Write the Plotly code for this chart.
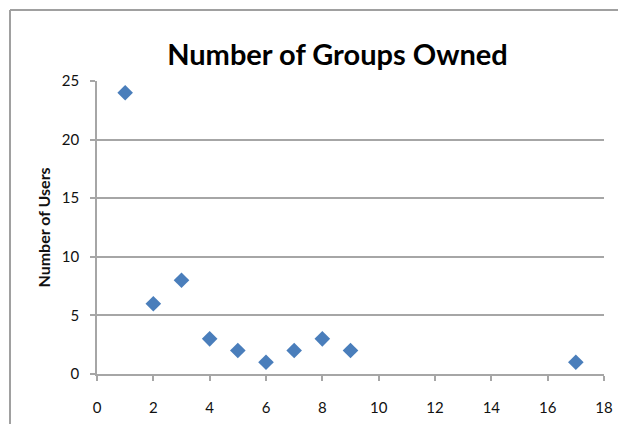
import plotly.graph_objects as go

# Groups owned per user (x) vs. number of users with that count (y)
groups_owned = [1, 2, 3, 4, 5, 6, 7, 8, 9, 17]
num_users = [24, 6, 8, 3, 2, 1, 2, 3, 2, 1]

x_ticks = list(range(0, 19, 2))
y_ticks = list(range(0, 26, 5))

W, H = 618, 424
L, R, T, B = 97, 14, 81, 50
pw, ph = W - L - R, H - T - B

fig = go.Figure(
    go.Scatter(
        x=groups_owned,
        y=num_users,
        mode="markers",
        marker=dict(symbol="diamond", size=12, color="#4A7EBB", line=dict(width=0)),
        cliponaxis=False,
    )
)

axis_grey = "#A6A6A6"
font_family = "Lato, 'Open Sans', sans-serif"

fig.update_xaxes(
    range=[0, 18],
    tickvals=x_ticks,
    showgrid=False,
    zeroline=False,
    showline=True,
    linecolor=axis_grey,
    linewidth=1.5,
    ticks="outside",
    ticklen=5,
    tickcolor=axis_grey,
    tickwidth=1.5,
    ticklabelstandoff=14,
    tickfont=dict(size=15, color="#111111", family=font_family),
    automargin=False,
)
fig.update_yaxes(
    range=[0, 25],
    tickvals=y_ticks,
    showgrid=True,
    gridcolor=axis_grey,
    gridwidth=1.5,
    zeroline=False,
    showline=True,
    linecolor=axis_grey,
    linewidth=1.5,
    ticks="outside",
    ticklen=5,
    tickcolor=axis_grey,
    tickwidth=1.5,
    ticklabelstandoff=8,
    tickfont=dict(size=15, color="#111111", family=font_family),
    automargin=False,
)

# Y-axis title as a rotated label left of the tick labels
fig.add_annotation(
    text="<b>Number of Users</b>",
    xref="paper", yref="paper",
    x=(43 - L) / pw, y=0.5,
    xanchor="center", yanchor="middle",
    textangle=-90,
    showarrow=False,
    font=dict(size=16, color="#111111", family=font_family),
)

# Outer chart frame (left and top edges visible)
fx0 = (10 - L) / pw
fy0 = 1 + (T - 10) / ph
frame = dict(color="#A0A0A0", width=2)
fig.add_shape(type="line", xref="paper", yref="paper",
              x0=fx0, x1=fx0, y0=fy0, y1=-B / ph, line=frame)
fig.add_shape(type="line", xref="paper", yref="paper",
              x0=fx0, x1=1 + R / pw, y0=fy0, y1=fy0, line=frame)

fig.update_layout(
    width=W,
    height=H,
    margin=dict(l=L, r=R, t=T, b=B, autoexpand=False),
    paper_bgcolor="white",
    plot_bgcolor="white",
    showlegend=False,
    title=dict(
        text="<b>Number of Groups Owned</b>",
        x=337.5 / W,
        xanchor="center",
        y=1 - 55 / H,
        yanchor="middle",
        font=dict(size=29, color="#000000", family=font_family),
    ),
)

fig.write_html("out.html")
